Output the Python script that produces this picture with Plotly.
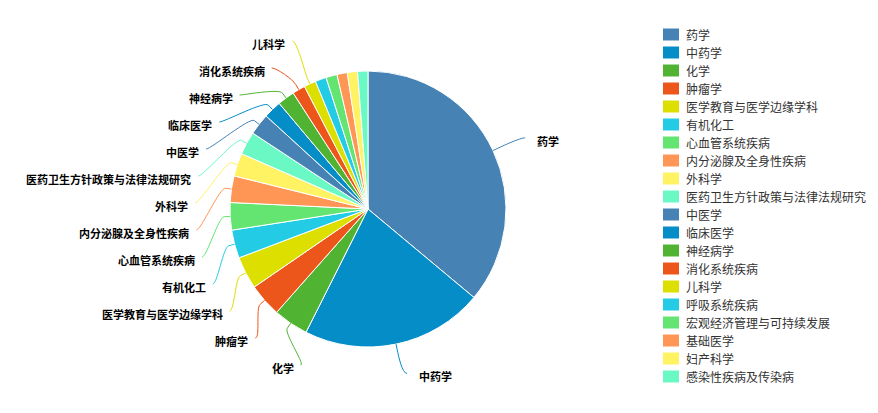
import math
import plotly.graph_objects as go

# ---- data -------------------------------------------------------------
categories = [
    "药学", "中药学", "化学", "肿瘤学", "医学教育与医学边缘学科", "有机化工",
    "心血管系统疾病", "内分泌腺及全身性疾病", "外科学", "医药卫生方针政策与法律法规研究",
    "中医学", "临床医学", "神经病学", "消化系统疾病", "儿科学", "呼吸系统疾病",
    "宏观经济管理与可持续发展", "基础医学", "妇产科学", "感染性疾病及传染病",
]
counts = [360, 213, 41, 39, 38, 33, 32, 31, 27, 27, 25, 21, 20, 15, 14, 13, 13, 12, 12, 12]

palette = ["#4682B4", "#058DC7", "#50B432", "#ED561B", "#DDDF00",
           "#24CBE5", "#64E572", "#FF9655", "#FFF263", "#6AF9C4"]

# ---- geometry (pixels) ------------------------------------------------
W, H = 878, 413
CX, CY, RADIUS = 368.0, 209.0, 138.0
LABEL_DISTANCE = 30.0          # label ring sits this far outside the pie
LABEL_PADDING = 5.0
BOX_SIZE = 27.0                # vertical slot reserved for each label
BREAK_OFFSET = min(11.0, LABEL_DISTANCE / 5)
FONT = "Noto Sans CJK SC"

colors = [palette[i % len(palette)] for i in range(len(categories))]


def px(x):
    return x / W


def py(y):
    return 1 - y / H


total = float(sum(counts))
mids = []
acc = 0.0
for v in counts:
    mids.append(2 * math.pi * (acc + v / 2) / total)  # clockwise from 12 o'clock
    acc += v

ring = RADIUS + LABEL_DISTANCE
natural_y = [CY - ring * math.cos(t) for t in mids]
left_side = [math.sin(t) < 0 for t in mids]
top = max(0.0, CY - ring)
bottom = min(float(H), CY + ring)
span = bottom - top + BOX_SIZE


def distribute(indices):
    """Spread labels of one half vertically, dropping the smallest ones if they cannot fit."""
    boxes = [dict(i=i, target=natural_y[i] - top + BOX_SIZE / 2, rank=counts[i]) for i in indices]
    if BOX_SIZE * len(boxes) > span:
        boxes.sort(key=lambda b: -b["rank"])
        keep, used = 0, 0.0
        while used <= span and keep < len(boxes):
            used += BOX_SIZE
            keep += 1
        if used > span:
            keep -= 1
        boxes = boxes[:keep]
    boxes.sort(key=lambda b: b["target"])
    groups = [dict(size=BOX_SIZE, targets=[b["target"]], members=[b], align=0.5) for b in boxes]
    overlapping = True
    while overlapping:
        for g in groups:
            tgt = (min(g["targets"]) + max(g["targets"])) / 2
            g["pos"] = min(max(tgt - g["size"] * g["align"], 0.0), span - g["size"])
        overlapping = False
        i = len(groups) - 1
        while i > 0:
            a, b = groups[i - 1], groups[i]
            if a["pos"] + a["size"] > b["pos"]:
                a["size"] += b["size"]
                a["targets"] += b["targets"]
                a["members"] += b["members"]
                a["align"] = 0.5
                if a["pos"] + a["size"] > span:
                    a["pos"] = span - a["size"]
                del groups[i]
                overlapping = True
            i -= 1
    placed = {}
    for g in groups:
        off = 0.0
        for b in g["members"]:
            placed[b["i"]] = g["pos"] + off
            off += BOX_SIZE
    return placed


placed = {}
placed.update(distribute([i for i in range(len(counts)) if left_side[i]]))
placed.update(distribute([i for i in range(len(counts)) if not left_side[i]]))

shapes = []
annotations = []

for i, pos in placed.items():
    t = mids[i]
    dx, dy = math.sin(t), -math.cos(t)
    left = left_side[i]
    sgn = -1 if left else 1
    y = top + pos
    at_bound = pos <= 0 or pos >= span - BOX_SIZE
    y_for_x = natural_y[i] if at_bound else y
    h = max(ring * ring - (y_for_x - CY) ** 2, 0.0)
    x = CX + sgn * (math.sqrt(h) + LABEL_PADDING)

    touch = (CX + RADIUS * dx, CY + RADIUS * dy)
    brk = (CX + (RADIUS + BREAK_OFFSET) * dx, CY + (RADIUS + BREAK_OFFSET) * dy)
    ctrl2 = (2 * brk[0] - touch[0], 2 * brk[1] - touch[1])
    ctrl1 = (x - sgn * 5, y)
    path = (f"M{px(x)},{py(y)} "
            f"C{px(ctrl1[0])},{py(ctrl1[1])} {px(ctrl2[0])},{py(ctrl2[1])} {px(brk[0])},{py(brk[1])} "
            f"L{px(touch[0])},{py(touch[1])}")
    shapes.append(dict(type="path", xref="paper", yref="paper", path=path,
                       line=dict(color=colors[i], width=1)))

    annotations.append(dict(
        x=px(x - 5 if left else x + 10), y=py(y + 3), xref="paper", yref="paper",
        text=categories[i], showarrow=False,
        xanchor="right" if left else "left", yanchor="middle",
        font=dict(family=FONT, size=11, color="#000000", weight="bold"),
    ))

# ---- legend column ----------------------------------------------------
LEG_X, LEG_Y0, LEG_STEP = 663.0, 34.5, 18.0
for k, name in enumerate(categories):
    yc = LEG_Y0 + k * LEG_STEP
    shapes.append(dict(type="rect", xref="paper", yref="paper",
                       x0=px(LEG_X), x1=px(LEG_X + 16), y0=py(yc + 6), y1=py(yc - 6),
                       fillcolor=colors[k], line=dict(width=0)))
    annotations.append(dict(
        x=px(LEG_X + 21), y=py(yc), xref="paper", yref="paper",
        text=name, showarrow=False, xanchor="left", yanchor="middle",
        font=dict(family=FONT, size=12, color="#333333"),
    ))

pie = go.Pie(
    labels=categories, values=counts,
    sort=False, direction="clockwise", rotation=0,
    marker=dict(colors=colors, line=dict(color="#FFFFFF", width=1)),
    textinfo="none", hoverinfo="label+value+percent",
    domain=dict(x=[px(CX - RADIUS), px(CX + RADIUS)], y=[py(CY + RADIUS), py(CY - RADIUS)]),
    showlegend=False,
)

fig = go.Figure(pie)
fig.update_layout(
    width=W, height=H,
    margin=dict(l=0, r=0, t=0, b=0),
    paper_bgcolor="#FFFFFF", plot_bgcolor="#FFFFFF",
    showlegend=False,
    shapes=shapes, annotations=annotations,
    font=dict(family=FONT),
)
fig.write_html("out.html")
